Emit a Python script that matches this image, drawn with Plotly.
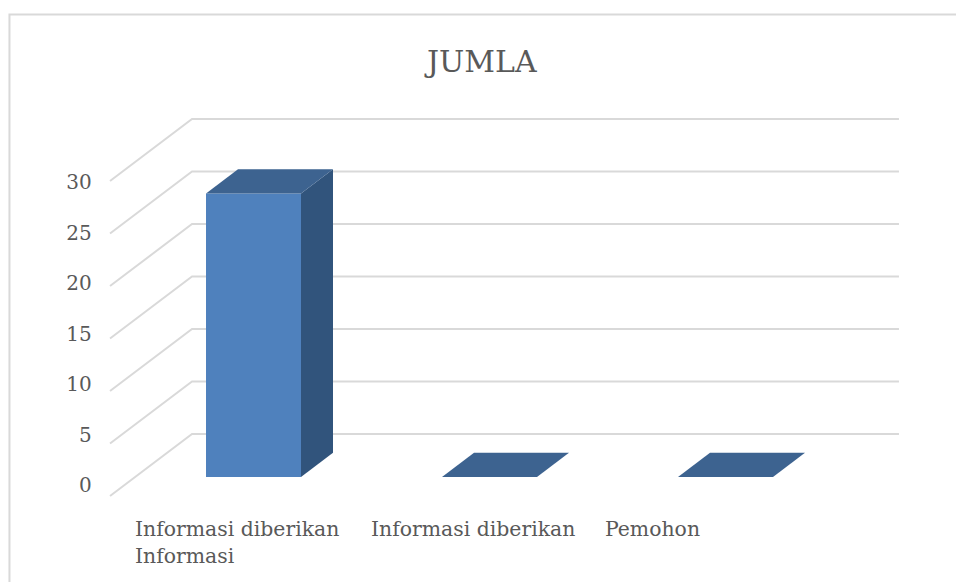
"""3D-look column chart: front faces are real bars, depth faces are polygons on the same axes."""

import plotly.graph_objects as go

TITLE = "JUMLA"
CATEGORIES = ["Informasi diberikan<br>Informasi", "Informasi diberikan", "Pemohon"]
VALUES = [27, 0, 0]
Y_TICKS = [0, 5, 10, 15, 20, 25, 30]

FONT = "DejaVu Serif"
TEXT_COLOR = "#595959"
GRID_COLOR = "#d9d9d9"
COLOR_FRONT = "#4f81bd"
COLOR_TOP = "#3d6390"
COLOR_SIDE = "#31547c"

BAR_WIDTH = 0.4025
# Fake perspective, in axis units (1 x unit = 236px, 1 y unit = 10.5px).
BAR_DX, BAR_DY = 0.1356, 2.3
FRONT_DX, FRONT_DY = -0.608, -1.81
BACK_DX, BACK_DY = -0.2606, 4.095
WALL_RIGHT = 2.735
# Labels sit left of their bars, and not quite evenly.
LABEL_OFFSETS = [-0.51, -0.51, -0.518]

fig = go.Figure()

positions = list(range(len(CATEGORIES)))

fig.add_trace(
    go.Bar(
        x=positions,
        y=VALUES,
        width=BAR_WIDTH,
        marker={"color": COLOR_FRONT, "line": {"width": 0}},
        showlegend=False,
    )
)

for pos, value in zip(positions, VALUES):
    left = pos - BAR_WIDTH / 2
    right = pos + BAR_WIDTH / 2
    if value > 0:
        fig.add_trace(
            go.Scatter(
                x=[right, right + BAR_DX, right + BAR_DX, right, right],
                y=[0, BAR_DY, value + BAR_DY, value, 0],
                mode="lines",
                fill="toself",
                fillcolor=COLOR_SIDE,
                line={"width": 0},
                showlegend=False,
            )
        )
    fig.add_trace(
        go.Scatter(
            x=[left, left + BAR_DX, right + BAR_DX, right, left],
            y=[value, value + BAR_DY, value + BAR_DY, value, value],
            mode="lines",
            fill="toself",
            fillcolor=COLOR_TOP,
            line={"width": 0},
            showlegend=False,
        )
    )

# Walls have to sit under the bars, so they are shapes rather than traces.
for tick in Y_TICKS:
    fig.add_shape(
        type="path",
        path=(
            f"M {FRONT_DX} {tick + FRONT_DY} "
            f"L {BACK_DX} {tick + BACK_DY} "
            f"L {WALL_RIGHT} {tick + BACK_DY}"
        ),
        line={"color": GRID_COLOR, "width": 2},
        layer="below",
    )

# Chart frame, cut off by the right and bottom of the picture.
fig.add_shape(
    type="path",
    xref="paper",
    yref="paper",
    path="M 0.0099 0 L 0.0099 0.975 L 1 0.975",
    line={"color": GRID_COLOR, "width": 2},
    layer="below",
)

# Invisible trace so the tick axis gets drawn.
fig.add_trace(
    go.Scatter(x=[0] * len(Y_TICKS), y=Y_TICKS, yaxis="y2", mode="none", showlegend=False)
)

for pos, label, offset in zip(positions, CATEGORIES, LABEL_OFFSETS):
    fig.add_annotation(
        x=pos + offset,
        y=-3.6,
        yanchor="top",
        xanchor="left",
        align="left",
        text=label,
        showarrow=False,
        font={"family": FONT, "size": 20.4, "color": TEXT_COLOR},
    )

fig.add_annotation(
    xref="paper",
    yref="paper",
    x=0.5025,
    y=0.895,
    yanchor="middle",
    text=TITLE,
    showarrow=False,
    font={"family": FONT, "size": 30, "color": TEXT_COLOR},
)

fig.update_layout(
    width=956,
    height=582,
    margin={"l": 0, "r": 0, "t": 0, "b": 0},
    paper_bgcolor="white",
    plot_bgcolor="white",
    xaxis={"range": [-1.0742, 2.9767], "visible": False},
    yaxis={"range": [-10, 45.43], "visible": False},
    yaxis2={
        "overlaying": "y",
        "anchor": "free",
        "position": 0.096,
        "side": "left",
        "range": [-9.6, 48.02],
        "tickvals": Y_TICKS,
        "ticks": "",
        "showgrid": False,
        "zeroline": False,
        "showline": False,
        "tickfont": {"family": FONT, "size": 20, "color": TEXT_COLOR},
    },
)

# The page's default body margin would push the figure 8px off.
fig.write_html(
    "out.html",
    config={"displayModeBar": False},
    post_script="document.body.style.margin = '0';",
)
